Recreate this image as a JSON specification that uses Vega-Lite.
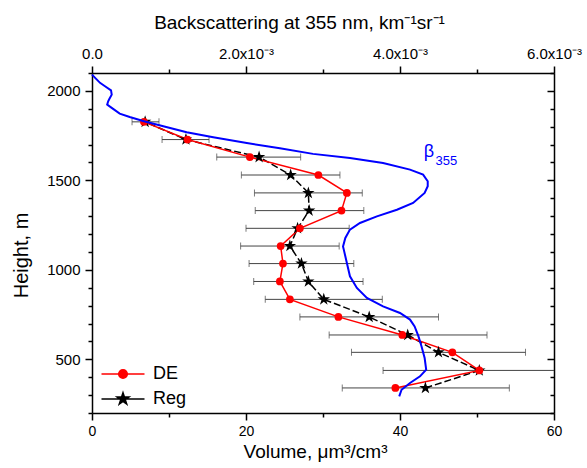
{
  "$schema": "https://vega.github.io/schema/vega-lite/v6.json",
  "width": 462,
  "height": 340,
  "autosize": {"type": "none"},
  "padding": {"left": 92, "top": 73, "right": 33, "bottom": 55},
  "background": "white",
  "config": {
    "view": {"stroke": null},
    "font": "Liberation Sans",
    "axis": {
      "domainColor": "black", "domainWidth": 1.5,
      "tickColor": "black", "tickWidth": 1.5, "tickSize": 7,
      "labelColor": "black", "labelFont": "Liberation Sans", "labelFontSize": 15,
      "titleFont": "Liberation Sans", "titleFontSize": 20, "titleFontWeight": "normal", "titleColor": "black",
      "grid": false, "labelFlush": false, "labelOverlap": false, "labelPadding": 5
    }
  },
  "datasets": {
    "pts": [
      {"h": 340, "de": 39.4, "reg": 43.3, "lo": 32.5, "hi": 54.2},
      {"h": 438, "de": 50.3, "reg": 50.3, "lo": 37.8, "hi": 62.8},
      {"h": 539, "de": 46.8, "reg": 45.0, "lo": 33.7, "hi": 56.3},
      {"h": 636, "de": 40.3, "reg": 41.0, "lo": 30.8, "hi": 51.3},
      {"h": 737, "de": 32.0, "reg": 36.0, "lo": 27.0, "hi": 45.0},
      {"h": 835, "de": 25.7, "reg": 30.1, "lo": 22.5, "hi": 37.7},
      {"h": 935, "de": 24.4, "reg": 28.1, "lo": 21.0, "hi": 35.2},
      {"h": 1035, "de": 24.8, "reg": 27.2, "lo": 20.4, "hi": 34.0},
      {"h": 1133, "de": 24.5, "reg": 25.7, "lo": 19.3, "hi": 32.1},
      {"h": 1232, "de": 27.0, "reg": 26.7, "lo": 20.0, "hi": 33.4},
      {"h": 1331, "de": 32.4, "reg": 28.2, "lo": 21.2, "hi": 35.3},
      {"h": 1430, "de": 33.1, "reg": 28.1, "lo": 21.1, "hi": 35.1},
      {"h": 1530, "de": 29.4, "reg": 25.8, "lo": 19.4, "hi": 32.2},
      {"h": 1630, "de": 20.5, "reg": 21.7, "lo": 16.2, "hi": 27.1},
      {"h": 1728, "de": 12.4, "reg": 12.2, "lo": 9.1, "hi": 15.2},
      {"h": 1827, "de": 6.75, "reg": 6.9, "lo": 5.2, "hi": 8.7}
    ],
    "beta": [
      {"h": 2091, "b": 0.0},
      {"h": 2045, "b": 0.000104},
      {"h": 2026, "b": 0.000169},
      {"h": 2003, "b": 0.000247},
      {"h": 1979, "b": 0.000256},
      {"h": 1955, "b": 0.000225},
      {"h": 1942, "b": 0.00021},
      {"h": 1923, "b": 0.000197},
      {"h": 1905, "b": 0.000256},
      {"h": 1873, "b": 0.00036},
      {"h": 1854, "b": 0.00049},
      {"h": 1830, "b": 0.000675},
      {"h": 1802, "b": 0.000926},
      {"h": 1769, "b": 0.00123},
      {"h": 1741, "b": 0.001575},
      {"h": 1709, "b": 0.00201},
      {"h": 1679, "b": 0.00244},
      {"h": 1648, "b": 0.00287},
      {"h": 1625, "b": 0.00335},
      {"h": 1597, "b": 0.00378},
      {"h": 1560, "b": 0.00413},
      {"h": 1532, "b": 0.0043},
      {"h": 1495, "b": 0.00436},
      {"h": 1467, "b": 0.00436},
      {"h": 1430, "b": 0.00432},
      {"h": 1374, "b": 0.00417},
      {"h": 1336, "b": 0.00396},
      {"h": 1299, "b": 0.0037},
      {"h": 1262, "b": 0.00348},
      {"h": 1225, "b": 0.00335},
      {"h": 1178, "b": 0.00329},
      {"h": 1131, "b": 0.00326},
      {"h": 1113, "b": 0.00327},
      {"h": 1038, "b": 0.00331},
      {"h": 964, "b": 0.00335},
      {"h": 899, "b": 0.00344},
      {"h": 843, "b": 0.00357},
      {"h": 796, "b": 0.00378},
      {"h": 759, "b": 0.004},
      {"h": 722, "b": 0.00413},
      {"h": 684, "b": 0.00419},
      {"h": 628, "b": 0.00424},
      {"h": 572, "b": 0.00428},
      {"h": 507, "b": 0.00432},
      {"h": 442, "b": 0.00434},
      {"h": 405, "b": 0.00426},
      {"h": 368, "b": 0.00413},
      {"h": 330, "b": 0.00402},
      {"h": 293, "b": 0.00399}
    ]
  },
  "layer": [
    {
      "data": {"name": "pts"},
      "layer": [
        {
          "mark": {"type": "rule", "color": "#444444", "strokeWidth": 1, "clip": true},
          "encoding": {
            "x": {"field": "lo", "type": "quantitative", "scale": {"domain": [0, 60], "nice": false},
              "title": "Volume, μm³/cm³",
              "axis": {
                "orient": "bottom",
                "values": [0, 10, 20, 30, 40, 50, 60],
                "tickCount": 100,
                "format": "d",
                "labelExpr": "datum.value % 20 === 0 ? datum.label : ''",
                "labelOverlap": false,
                "labelFontSize": 14,
                "labelPadding": 4,
                "title": "Volume, μm³/cm³",
                "titleFontSize": 19,
                "titleX": 223, "titleY": 44, "titleBaseline": "alphabetic", "titleAlign": "center",
                "encoding": {"ticks": {"y2": {"value": {"expr": "datum.value % 20 === 0 ? 7 : 4"}}}}
              }
            },
            "x2": {"field": "hi"},
            "y": {"field": "h", "type": "quantitative", "scale": {"domain": [200, 2100], "nice": false},
              "title": "Height, m",
              "axis": {
                "orient": "left",
                "values": [200, 300, 400, 500, 600, 700, 800, 900, 1000, 1100, 1200, 1300, 1400, 1500, 1600, 1700, 1800, 1900, 2000, 2100],
                "tickCount": 100,
                "format": "d",
                "labelExpr": "datum.value % 500 === 0 ? datum.label : ''",
                "labelOverlap": false,
                "title": "Height, m",
                "titleX": -71, "titleY": 182, "titleAngle": -90, "titleBaseline": "middle", "titleAlign": "center",
                "encoding": {"ticks": {"x2": {"value": {"expr": "datum.value % 500 === 0 ? -7 : -4"}}}}
              }
            }
          }
        },
        {
          "mark": {"type": "tick", "orient": "vertical", "color": "#444444", "thickness": 1, "size": 7, "clip": true},
          "encoding": {
            "x": {"field": "lo", "type": "quantitative", "title": "Volume, μm³/cm³"},
            "y": {"field": "h", "type": "quantitative", "title": "Height, m"}
          }
        },
        {
          "mark": {"type": "tick", "orient": "vertical", "color": "#444444", "thickness": 1, "size": 7, "clip": true},
          "encoding": {
            "x": {"field": "hi", "type": "quantitative", "title": "Volume, μm³/cm³"},
            "y": {"field": "h", "type": "quantitative", "title": "Height, m"}
          }
        },
        {
          "mark": {"type": "line", "strokeWidth": 1.5, "strokeDash": [7, 3]},
          "encoding": {
            "x": {"field": "reg", "type": "quantitative", "title": "Volume, μm³/cm³"},
            "y": {"field": "h", "type": "quantitative", "title": "Height, m"},
            "order": {"field": "h", "type": "quantitative"},
            "color": {"datum": "Reg", "type": "nominal", "scale": {"domain": ["DE", "Reg"], "range": ["#ff0000", "#000000"]}}
          }
        },
        {
          "mark": {"type": "line", "strokeWidth": 1.5},
          "encoding": {
            "x": {"field": "de", "type": "quantitative", "title": "Volume, μm³/cm³"},
            "y": {"field": "h", "type": "quantitative", "title": "Height, m"},
            "order": {"field": "h", "type": "quantitative"},
            "color": {"datum": "DE", "type": "nominal", "scale": {"domain": ["DE", "Reg"], "range": ["#ff0000", "#000000"]}}
          }
        },
        {
          "mark": {"type": "point", "filled": true, "opacity": 1, "size": 170, "shape": "M0,-1L0.2245,-0.309L0.951,-0.309L0.363,0.118L0.588,0.809L0,0.382L-0.588,0.809L-0.363,0.118L-0.951,-0.309L-0.2245,-0.309Z"},
          "encoding": {
            "x": {"field": "reg", "type": "quantitative", "title": "Volume, μm³/cm³"},
            "y": {"field": "h", "type": "quantitative", "title": "Height, m"},
            "color": {"datum": "Reg", "type": "nominal", "scale": {"domain": ["DE", "Reg"], "range": ["#ff0000", "#000000"]}}
          }
        },
        {
          "mark": {"type": "point", "filled": true, "opacity": 1, "size": 60, "shape": "circle"},
          "encoding": {
            "x": {"field": "de", "type": "quantitative", "title": "Volume, μm³/cm³"},
            "y": {"field": "h", "type": "quantitative", "title": "Height, m"},
            "color": {"datum": "DE", "type": "nominal", "scale": {"domain": ["DE", "Reg"], "range": ["#ff0000", "#000000"]},
              "legend": {
                "orient": "none", "legendX": 22, "legendY": 292,
                "title": null, "padding": 0,
                "labelFont": "Liberation Sans", "labelFontSize": 18, "labelColor": "black",
                "symbolSize": 74, "labelOffset": 21, "rowPadding": 6,
                "encoding": {
                  "symbols": {
                    "shape": {"value": {"expr": "datum.value === 'DE' ? 'M-5,0L5,0M-1,0A1,1,0,1,1,1,0A1,1,0,1,1,-1,0Z' : 'M-5,0L5,0M0,-1.47L0.33,-0.454L1.398,-0.454L0.534,0.173L0.864,1.189L0,0.562L-0.864,1.189L-0.534,0.173L-1.398,-0.454L-0.33,-0.454Z'"}},
                    "fill": {"value": {"expr": "datum.value === 'DE' ? '#ff0000' : '#000000'"}},
                    "stroke": {"value": {"expr": "datum.value === 'DE' ? '#ff0000' : '#000000'"}},
                    "strokeWidth": {"value": 1.5},
                    "size": {"value": 74},
                    "opacity": {"value": 1}
                  }
                }
              }
            }
          }
        }
      ]
    },
    {
      "layer": [
        {
          "data": {"name": "beta"},
          "mark": {"type": "line", "color": "#0000ff", "strokeWidth": 2},
          "encoding": {
            "x": {"field": "b", "type": "quantitative", "scale": {"domain": [0, 0.006], "nice": false},
              "title": "Backscattering at 355 nm, km⁻¹sr⁻¹",
              "axis": {
                "orient": "top",
                "values": [0, 0.001, 0.002, 0.003, 0.004, 0.005, 0.006],
                "tickCount": 100,
                "labelExpr": "datum.value === 0 ? '0.0' : (round(datum.value * 1000) % 2 === 0 ? format(datum.value * 1000, '.1f') + 'x10⁻³' : '')",
                "labelOverlap": false,
                "title": "Backscattering at 355 nm, km⁻¹sr⁻¹",
                "titleFontSize": 19,
                "titleX": 207, "titleY": -45, "titleBaseline": "alphabetic", "titleAlign": "center",
                "encoding": {"ticks": {"y2": {"value": {"expr": "round(datum.value * 1000) % 2 === 0 ? -7 : -4"}}}}
              }
            },
            "y": {"field": "h", "type": "quantitative", "scale": {"domain": [200, 2100], "nice": false},
              "title": " ",
              "axis": {
                "orient": "right",
                "values": [200, 300, 400, 500, 600, 700, 800, 900, 1000, 1100, 1200, 1300, 1400, 1500, 1600, 1700, 1800, 1900, 2000, 2100],
                "tickCount": 100,
                "labels": false,
                "title": " ",
                "encoding": {"ticks": {"x2": {"value": {"expr": "datum.value % 500 === 0 ? -7 : -4"}}}}
              }
            },
            "order": {"field": "h", "type": "quantitative"}
          }
        },
        {
          "data": {"values": [{"b": 0.00431, "h": 1633, "t": "β"}]},
          "mark": {"type": "text", "color": "#0000ff", "align": "left", "baseline": "alphabetic", "fontSize": 18, "font": "Liberation Sans"},
          "encoding": {
            "x": {"field": "b", "type": "quantitative", "title": "Backscattering at 355 nm, km⁻¹sr⁻¹"},
            "y": {"field": "h", "type": "quantitative", "title": " "},
            "text": {"field": "t"}
          }
        },
        {
          "data": {"values": [{"b": 0.00446, "h": 1588, "t": "355"}]},
          "mark": {"type": "text", "color": "#0000ff", "align": "left", "baseline": "alphabetic", "fontSize": 13, "font": "Liberation Sans"},
          "encoding": {
            "x": {"field": "b", "type": "quantitative", "title": "Backscattering at 355 nm, km⁻¹sr⁻¹"},
            "y": {"field": "h", "type": "quantitative", "title": " "},
            "text": {"field": "t"}
          }
        }
      ]
    }
  ],
  "resolve": {"scale": {"x": "independent"}, "axis": {"x": "independent", "y": "independent"}}
}
